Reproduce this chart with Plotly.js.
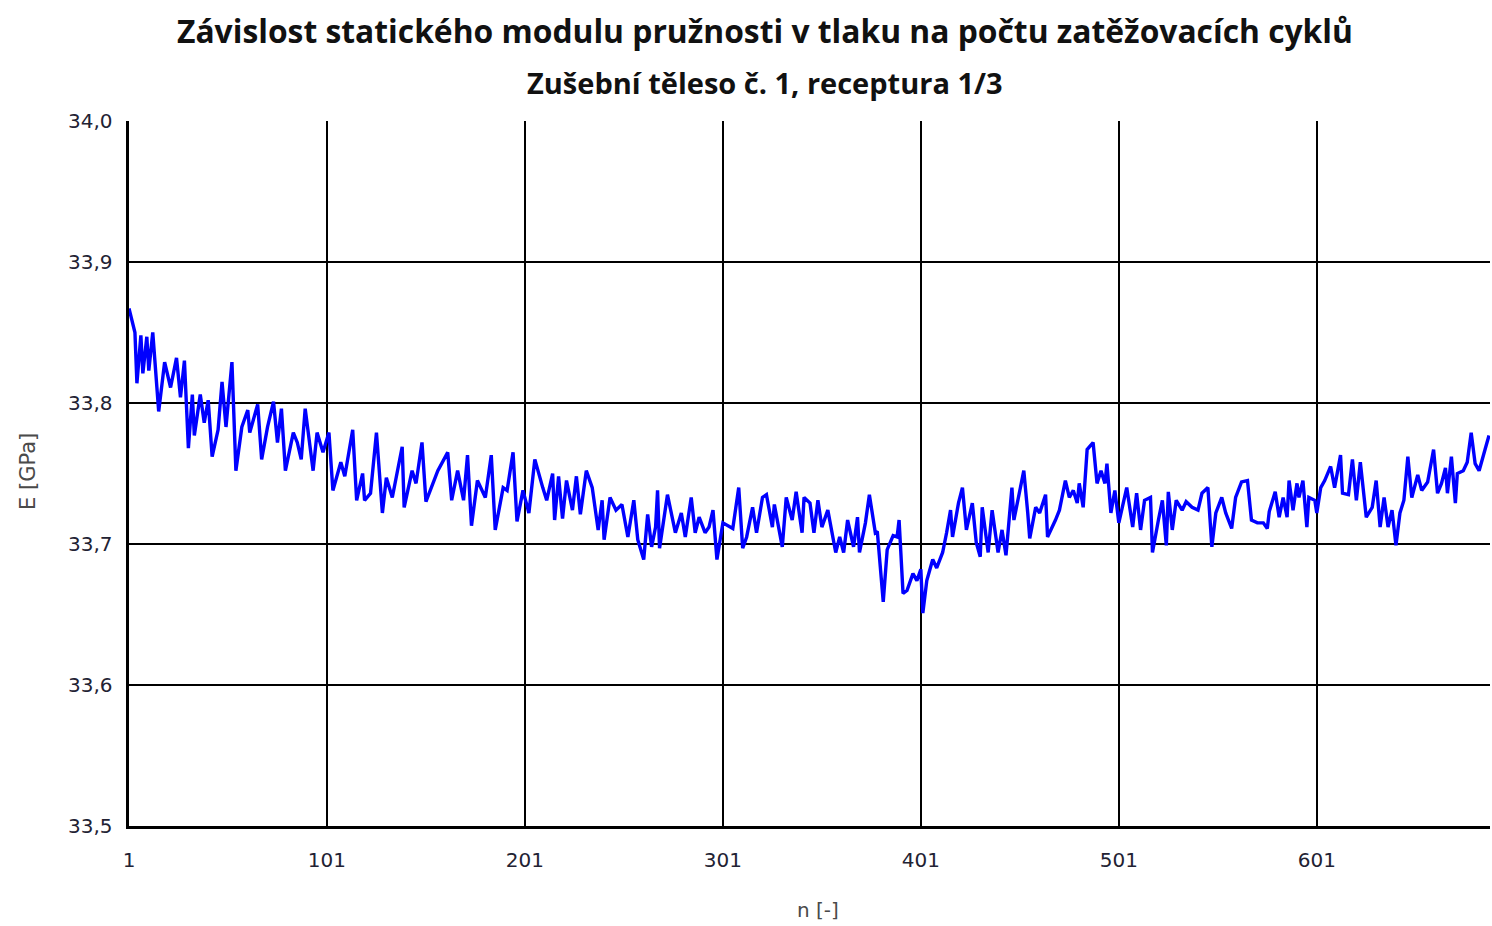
<!DOCTYPE html>
<html>
<head>
<meta charset="utf-8">
<script src="https://cdn.plot.ly/plotly-3.0.1.min.js"></script>
<style>html,body{margin:0;padding:0;background:#fff;}#chart{width:1492px;height:926px;}</style>
</head>
<body>
<div id="chart"></div>
<script>
const cycles = [1,4,5,7,8,10,11,13,16,19,22,25,27,29,31,33,34,37,39,41,43,46,48,50,53,55,58,61,62,66,68,71,74,76,78,80,84,86,88,90,94,96,99,102,104,108,110,114,116,119,120,123,126,129,131,134,139,140,144,146,149,151,157,162,164,167,170,172,174,177,181,184,186,190,192,195,197,200,203,206,210,212,215,216,218,220,222,225,227,229,232,235,238,240,241,244,247,250,253,256,258,261,263,265,267,268,269,273,277,280,282,285,287,289,292,294,296,298,301,306,309,311,313,316,318,321,323,326,327,331,333,336,338,341,342,345,347,349,351,354,358,360,362,364,367,369,370,373,375,378,379,382,384,387,389,390,392,394,397,399,401,402,404,407,409,412,414,416,417,420,422,424,427,429,431,432,435,437,440,442,444,447,448,451,453,455,456,459,461,464,465,469,471,474,476,478,480,481,483,485,488,490,492,494,495,497,499,501,505,508,510,512,514,517,518,521,523,525,526,528,530,533,535,538,541,543,546,548,550,553,555,558,560,563,566,568,571,574,576,577,580,582,584,586,587,589,591,592,594,596,597,600,601,603,605,608,610,613,614,617,619,621,623,626,629,631,633,635,637,639,641,643,645,647,649,652,654,657,660,662,664,666,667,669,671,672,675,677,679,681,683,686,688];
const modulusGPa = [33.867,33.850,33.814,33.848,33.821,33.847,33.823,33.850,33.794,33.829,33.811,33.832,33.804,33.830,33.768,33.806,33.777,33.806,33.786,33.802,33.762,33.781,33.815,33.783,33.829,33.752,33.783,33.795,33.779,33.799,33.760,33.783,33.801,33.772,33.796,33.752,33.779,33.772,33.760,33.796,33.752,33.779,33.765,33.779,33.738,33.758,33.748,33.781,33.731,33.750,33.731,33.736,33.779,33.722,33.747,33.733,33.769,33.726,33.752,33.743,33.772,33.730,33.752,33.765,33.731,33.752,33.731,33.763,33.713,33.745,33.733,33.763,33.710,33.740,33.738,33.765,33.716,33.738,33.722,33.760,33.740,33.731,33.750,33.717,33.748,33.718,33.745,33.724,33.748,33.721,33.752,33.740,33.710,33.731,33.703,33.733,33.724,33.728,33.705,33.731,33.703,33.689,33.721,33.698,33.712,33.738,33.697,33.735,33.708,33.722,33.705,33.733,33.708,33.719,33.708,33.712,33.724,33.689,33.715,33.711,33.740,33.697,33.705,33.726,33.708,33.733,33.735,33.712,33.728,33.698,33.733,33.717,33.737,33.708,33.733,33.729,33.708,33.731,33.712,33.724,33.694,33.705,33.694,33.717,33.698,33.719,33.694,33.715,33.735,33.708,33.709,33.659,33.696,33.706,33.705,33.717,33.665,33.667,33.679,33.674,33.682,33.651,33.674,33.689,33.683,33.694,33.708,33.724,33.705,33.729,33.740,33.710,33.729,33.701,33.691,33.726,33.694,33.724,33.694,33.710,33.692,33.740,33.717,33.740,33.752,33.722,33.704,33.726,33.722,33.735,33.705,33.717,33.724,33.745,33.733,33.738,33.729,33.743,33.726,33.767,33.772,33.743,33.752,33.743,33.757,33.722,33.738,33.715,33.740,33.712,33.736,33.710,33.731,33.733,33.694,33.717,33.731,33.699,33.737,33.710,33.731,33.724,33.730,33.726,33.724,33.736,33.740,33.698,33.722,33.733,33.722,33.711,33.733,33.744,33.745,33.717,33.715,33.715,33.711,33.723,33.737,33.719,33.733,33.719,33.745,33.724,33.743,33.733,33.745,33.712,33.733,33.731,33.722,33.740,33.745,33.755,33.740,33.763,33.736,33.735,33.760,33.731,33.758,33.719,33.726,33.745,33.712,33.733,33.712,33.724,33.699,33.722,33.731,33.762,33.733,33.749,33.738,33.744,33.767,33.736,33.743,33.754,33.736,33.762,33.729,33.750,33.752,33.758,33.779,33.757,33.752,33.767,33.777];
const xTicks = [1,101,201,301,401,501,601];
const yTicks = [33.5,33.6,33.7,33.8,33.9,34.0];
const titleText = 'Závislost statického modulu pružnosti v tlaku na počtu zatěžovacích cyklů';
const subtitleText = 'Zušební těleso č. 1, receptura 1/3';
const xTitle = 'n [-]';
const yTitle = 'E [GPa]';

const trace = {
  x: cycles, y: modulusGPa, type: 'scatter', mode: 'lines',
  line: {color: '#0000ff', width: 3.4}, hoverinfo: 'skip'
};
const tickFont = {family: 'DejaVu Sans', size: 20, color: '#222233'};
const centerX = (765 - 129) / 1361;
const layout = {
  width: 1492, height: 926,
  margin: {l: 129, r: 2, t: 121, b: 100},
  paper_bgcolor: '#ffffff', plot_bgcolor: '#ffffff',
  separators: ', ',
  showlegend: false,
  font: {family: 'DejaVu Sans', color: '#222', size: 14},
  xaxis: {
    range: [1, 688.5], tickmode: 'array', tickvals: xTicks, ticktext: xTicks.map(String),
    showgrid: true, gridcolor: '#000', gridwidth: 1.5,
    zeroline: false, showline: true, linecolor: '#000', linewidth: 2.5,
    ticks: '', ticklabelstandoff: 14, tickfont: tickFont
  },
  yaxis: {
    range: [33.5, 34.0], tickmode: 'array', tickvals: yTicks, tickformat: '.1f',
    showgrid: true, gridcolor: '#000', gridwidth: 1.5,
    zeroline: false, showline: true, linecolor: '#000', linewidth: 3.5,
    ticks: '', ticklabelstandoff: 9, tickfont: tickFont
  },
  annotations: [
    {text: '<b>' + titleText + '</b>', xref: 'paper', yref: 'paper', x: centerX, y: 1, yshift: 121 - 30,
     xanchor: 'center', yanchor: 'middle', showarrow: false,
     font: {family: 'Open Sans', size: 31.8, color: '#111'}},
    {text: '<b>' + subtitleText + '</b>', xref: 'paper', yref: 'paper', x: centerX, y: 1, yshift: 121 - 82,
     xanchor: 'center', yanchor: 'middle', showarrow: false,
     font: {family: 'Open Sans', size: 29, color: '#111'}},
    {text: xTitle, xref: 'paper', yref: 'paper', x: (818 - 129) / 1361, y: 0, yshift: -(910 - 826),
     xanchor: 'center', yanchor: 'middle', showarrow: false,
     font: {family: 'DejaVu Sans', size: 20, color: '#4a4a4a'}},
    {text: yTitle, xref: 'paper', yref: 'paper', x: 0, xshift: -(129 - 28), y: (826 - 472) / 705,
     xanchor: 'center', yanchor: 'middle', showarrow: false, textangle: -90,
     font: {family: 'DejaVu Sans', size: 21, color: '#4a4a4a'}}
  ]
};
Plotly.newPlot('chart', [trace], layout, {displayModeBar: false, staticPlot: true});
</script>
</body>
</html>
